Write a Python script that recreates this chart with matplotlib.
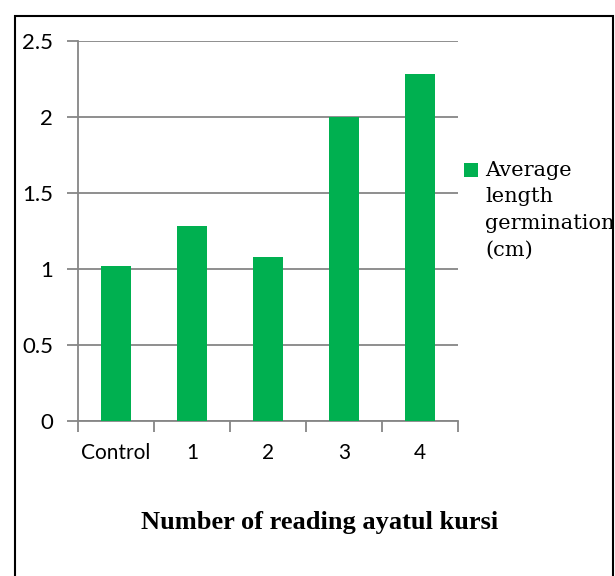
import matplotlib.pyplot as plt
from matplotlib.patches import Rectangle

#%% Data.
categories = ["Control", "1", "2", "3", "4"]
avg_length = [1.02, 1.28, 1.08, 2.00, 2.28]
series_label = "Average\nlength\ngermination\n(cm)"
x_title = "Number of reading ayatul kursi"
y_ticks = [0, 0.5, 1, 1.5, 2, 2.5]
y_ticklabels = ["0", "0.5", "1", "1.5", "2", "2.5"]

bar_green = "#00B050"
grid_grey = "#868686"

#%% Figure and axes.
fig = plt.figure(figsize=(6.15, 5.76), dpi=100)
ax = fig.add_axes([0.1268, 0.2691, 0.6179, 0.6597])

pos = list(range(len(categories)))
bars = ax.bar(pos, avg_length, width=0.39, color=bar_green, zorder=3)

ax.set_xlim(-0.5, len(categories) - 0.5)
ax.set_ylim(0, 2.5)

# y axis: gridlines + outward ticks.
ax.set_yticks(y_ticks)
ax.set_yticklabels(y_ticklabels, fontfamily="Lato", fontsize=16)
ax.yaxis.grid(True, color=grid_grey, linewidth=1.3, zorder=0)
ax.tick_params(axis="y", length=8, width=1.3, color=grid_grey, pad=10)

# x axis: labels at centers, tick marks at boundaries.
ax.set_xticks(pos)
ax.set_xticklabels(categories, fontfamily="Lato", fontsize=15)
ax.set_xticks([p - 0.5 for p in pos] + [pos[-1] + 0.5], minor=True)
ax.tick_params(axis="x", which="major", length=0, pad=16)
ax.tick_params(axis="x", which="minor", length=8, width=1.3, color=grid_grey)

for side in ["top", "right"]:
    ax.spines[side].set_visible(False)
for side in ["left", "bottom"]:
    ax.spines[side].set_color(grid_grey)
    ax.spines[side].set_linewidth(1.3)

# legend, drawn by hand so the key sits next to the first line
W, H = 615, 576
fig.patches.append(Rectangle((464 / W, 1 - 177 / H), 14 / W, 14 / H, transform=fig.transFigure,
                             facecolor=bar_green, edgecolor="none"))
fig.text(485 / W, 1 - 161 / H, series_label, ha="left", va="top",
         fontfamily="DejaVu Serif", fontsize=15, linespacing=1.5)

fig.text(0.52, 1 - 522 / H, x_title, ha="center", va="center",
         fontfamily="Liberation Serif", fontweight="bold", fontsize=19)

# outer frame of the chart area
fig.patches.append(Rectangle((0.0244, -0.1), 0.972, 1.0722, transform=fig.transFigure,
                             fill=False, edgecolor="black", linewidth=1.5, clip_on=False))

plt.savefig("out.png", dpi=100)
